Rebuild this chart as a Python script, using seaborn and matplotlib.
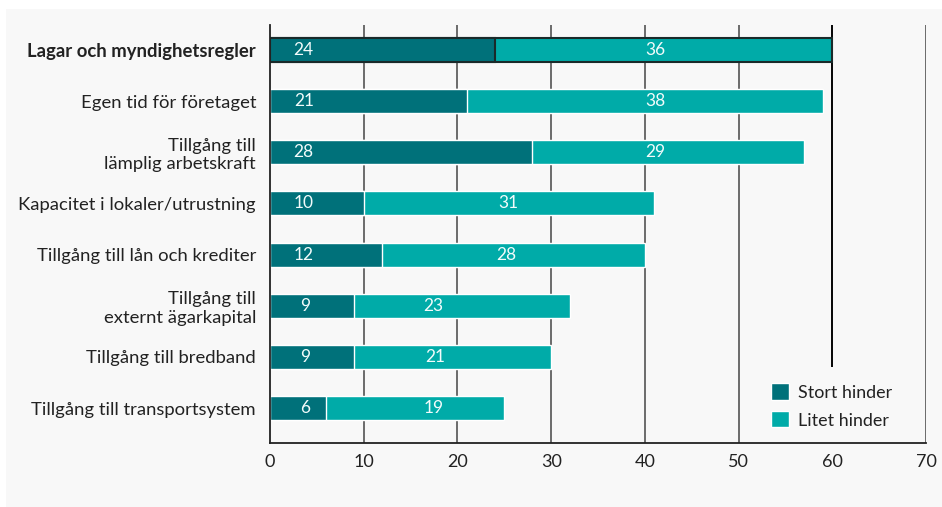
import matplotlib
matplotlib.use("Agg")
import matplotlib.pyplot as plt
import seaborn as sns
import pandas as pd
from matplotlib.patches import Rectangle, Patch

categories = ["Lagar och myndighetsregler", "Egen tid för företaget", "Tillgång till\nlämplig arbetskraft",
              "Kapacitet i lokaler/utrustning", "Tillgång till lån och krediter", "Tillgång till\nexternt ägarkapital",
              "Tillgång till bredband", "Tillgång till transportsystem"]
stort = [24, 21, 28, 10, 12, 9, 9, 6]
litet = [36, 38, 29, 31, 28, 23, 21, 19]
xticks = [0, 10, 20, 30, 40, 50, 60, 70]
series_names = ["Stort hinder", "Litet hinder"]

# where the original places its value labels (x, in data units)
stort_label_x = [3.5, 3.6, 3.5, 3.6, 3.6, 3.8, 3.8, 3.8]
litet_label_x = [41.1, 41.1, 41.1, 25.4, 25.2, 17.4, 17.6, 17.5]

dark = "#00717A"
light = "#00ABA8"
bg = "#f8f8f8"

df = pd.DataFrame({"cat": categories, "stort": stort, "litet": litet})
df["total"] = df["stort"] + df["litet"]

sns.set_theme(style="white")
plt.rcParams["font.family"] = ["Lato", "DejaVu Sans"]

fig = plt.figure(figsize=(9.42, 5.07), dpi=100)
fig.patch.set_facecolor("white")
fig.add_artist(Rectangle((6/942, 0), 1 - 6/942, 1 - 9/507, transform=fig.transFigure,
                         facecolor=bg, edgecolor="none", zorder=-10))
ax = fig.add_axes([270/942, 1 - 443/507, (926 - 270)/942, (443 - 25)/507])
ax.patch.set_alpha(0)

sns.barplot(data=df, y="cat", x="total", color=light, orient="h", width=0.47, ax=ax,
            saturation=1, zorder=3)
sns.barplot(data=df, y="cat", x="stort", color=dark, orient="h", width=0.47, ax=ax,
            saturation=1, zorder=3)
n = len(categories)
for i in (0, n):
    ax.patches[i].set_edgecolor("#1a2a2a")
    ax.patches[i].set_linewidth(1.5)

for i, (s, l) in enumerate(zip(stort, litet)):
    ax.text(stort_label_x[i], i, str(s), ha="center", va="center", color="#f2fbfb",
            fontsize=12.5, zorder=5)
    ax.text(litet_label_x[i], i, str(l), ha="center", va="center", color="#f2fbfb",
            fontsize=12.5, zorder=5)

ax.set_xlim(0, 70)
ax.set_ylim(7.684, -0.489)
ax.set_xticks(xticks)
ax.set_xticklabels([str(t) for t in xticks], fontsize=13, color="#222222")
ax.tick_params(axis="x", length=0, pad=8)
ax.tick_params(axis="y", length=0, pad=10)
labels = ax.get_yticklabels()
for lab in labels:
    lab.set_fontsize(13.3)
    lab.set_color("#222222")
labels[0].set_fontweight("bold")
for t in xticks[1:]:
    ax.axvline(t, color="#606060", linewidth=1.3, zorder=1)
ax.axvline(60, color="black", linewidth=1.3, zorder=1.1)
ax.set_xlabel("")
ax.set_ylabel("")
for s in ["top", "right"]:
    ax.spines[s].set_visible(False)
for s in ["left", "bottom"]:
    ax.spines[s].set_color("#222222")
    ax.spines[s].set_linewidth(1.3)
    ax.spines[s].set_zorder(4)

handles = [Patch(facecolor=dark, label=series_names[0]), Patch(facecolor=light, label=series_names[1])]
leg = ax.legend(handles=handles, loc="lower left", bbox_to_anchor=(0.739, -0.004), frameon=True,
                fontsize=12.9, handlelength=1.0, handleheight=1.0, handletextpad=0.5,
                labelspacing=0.6, borderpad=0.9, borderaxespad=0, fancybox=False)
leg.get_frame().set_facecolor(bg)
leg.get_frame().set_edgecolor("none")
leg.get_frame().set_alpha(1)
leg.set_zorder(2)
for t in leg.get_texts():
    t.set_color("#222222")

fig.savefig("out.png", dpi=100, facecolor=fig.get_facecolor())
